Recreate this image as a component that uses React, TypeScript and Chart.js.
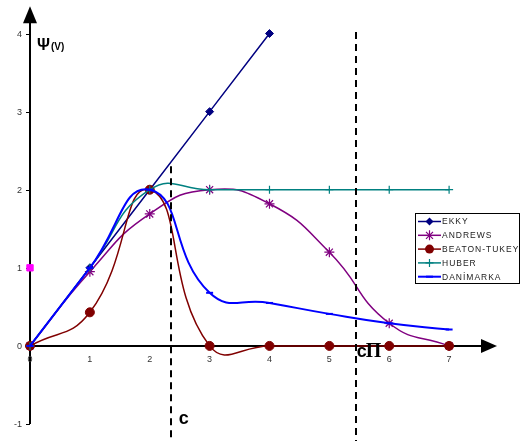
import React, { useEffect, useRef } from "react";
import { Chart, registerables } from "chart.js";

Chart.register(...registerables);

const xCategories = [0, 1, 2, 3, 4, 5, 6, 7];
const ekkyValues = [0, 1, 2, 3, 4];
const andrewsValues = [0, 0.95, 1.69, 2, 1.82, 1.2, 0.29, 0];
const beatonValues = [0, 0.43, 2, 0, 0, 0, 0, 0];
const huberValues = [0, 1, 2, 2, 2, 2, 2, 2];
const danimarkaValues = [0, 1, 2, 0.68, 0.55, 0.41, 0.29, 0.21];
const pinkMarkerX = [0];
const pinkMarkerY = [1];

const xTickLabels = ["0", "1", "2", "3", "4", "5", "6", "7"];
const yTickLabels = ["-1", "0", "1", "2", "3", "4"];
const yTickValues = [-1, 0, 1, 2, 3, 4];

const cLineX = [2.35, 5.44];
const cLineTop = [2.3, 4.02];
const cLabels = ["c", "c"];

const seriesNames = ["EKKY", "ANDREWS", "BEATON-TUKEY", "HUBER", "DANİMARKA"];
const seriesColors = ["#000080", "#800080", "#800000", "#008080", "#0000FF"];

const toPoints = (ys: number[]) => ys.map((y, i) => ({ x: xCategories[i], y }));

const SANS = "'Liberation Sans', Arial, sans-serif";
const SERIF = "'Liberation Serif', 'Times New Roman', serif";

function drawMarker(ctx: CanvasRenderingContext2D, ds: any, x: number, y: number) {
  const r = ds.pointRadius;
  ctx.save();
  ctx.fillStyle = ds.pointBackgroundColor;
  ctx.strokeStyle = ds.pointBorderColor;
  ctx.lineWidth = ds.pointBorderWidth;
  ctx.beginPath();
  switch (ds.pointStyle) {
    case "rectRot":
      ctx.moveTo(x, y - r);
      ctx.lineTo(x + r, y);
      ctx.lineTo(x, y + r);
      ctx.lineTo(x - r, y);
      ctx.closePath();
      ctx.fill();
      break;
    case "circle":
      ctx.arc(x, y, r, 0, Math.PI * 2);
      ctx.fill();
      break;
    case "star": {
      const d = r * 0.7;
      ctx.moveTo(x - d, y - d); ctx.lineTo(x + d, y + d);
      ctx.moveTo(x + d, y - d); ctx.lineTo(x - d, y + d);
      ctx.moveTo(x, y - r); ctx.lineTo(x, y + r);
      ctx.stroke();
      break;
    }
    case "cross":
      ctx.moveTo(x, y - r); ctx.lineTo(x, y + r);
      ctx.moveTo(x - r, y); ctx.lineTo(x + r, y);
      ctx.stroke();
      break;
    case "line":
      ctx.moveTo(x - r, y); ctx.lineTo(x + r, y);
      ctx.stroke();
      break;
  }
  ctx.restore();
}

const overlay = {
  id: "overlay",
  beforeDatasetsDraw(chart: any) {
    const ctx = chart.ctx as CanvasRenderingContext2D;
    const xs = chart.scales.x;
    const ys = chart.scales.y;
    const area = chart.chartArea;
    const x0 = xs.getPixelForValue(0);
    const y0 = ys.getPixelForValue(0);
    ctx.save();
    ctx.strokeStyle = "#000";
    ctx.fillStyle = "#000";
    ctx.lineWidth = 2;
    // y axis
    ctx.beginPath();
    ctx.moveTo(x0, ys.getPixelForValue(-1));
    ctx.lineTo(x0, area.top + 14);
    ctx.stroke();
    ctx.beginPath();
    ctx.moveTo(x0, area.top);
    ctx.lineTo(x0 - 7, area.top + 17);
    ctx.lineTo(x0 + 7, area.top + 17);
    ctx.closePath();
    ctx.fill();
    // x axis
    ctx.beginPath();
    ctx.moveTo(x0, y0);
    ctx.lineTo(area.right - 14, y0);
    ctx.stroke();
    ctx.beginPath();
    ctx.moveTo(area.right, y0);
    ctx.lineTo(area.right - 16, y0 - 7);
    ctx.lineTo(area.right - 16, y0 + 7);
    ctx.closePath();
    ctx.fill();
    // y ticks
    ctx.lineWidth = 1;
    ctx.font = `9px ${SANS}`;
    ctx.fillStyle = "#333";
    ctx.textAlign = "right";
    ctx.textBaseline = "middle";
    yTickValues.forEach((v, i) => {
      const py = Math.round(ys.getPixelForValue(v)) + 0.5;
      ctx.beginPath();
      ctx.moveTo(x0 - 4, py);
      ctx.lineTo(x0, py);
      ctx.stroke();
      ctx.fillText(yTickLabels[i], x0 - 8, py);
    });
    // x tick labels
    ctx.textAlign = "center";
    ctx.textBaseline = "top";
    xCategories.forEach((v, i) => {
      const px = xs.getPixelForValue(v);
      ctx.fillText(xTickLabels[i], px, y0 + 9);
    });
    ctx.restore();
  },
  afterDraw(chart: any) {
    const ctx = chart.ctx as CanvasRenderingContext2D;
    const xs = chart.scales.x;
    const ys = chart.scales.y;
    const H = chart.height;
    ctx.save();
    // dashed lines
    ctx.strokeStyle = "#000";
    ctx.lineWidth = 2;
    ctx.setLineDash([7, 5]);
    cLineX.forEach((v, i) => {
      const px = Math.round(xs.getPixelForValue(v));
      ctx.beginPath();
      ctx.moveTo(px, ys.getPixelForValue(cLineTop[i]));
      ctx.lineTo(px, H);
      ctx.stroke();
    });
    ctx.setLineDash([]);
    // c labels
    ctx.fillStyle = "#000";
    ctx.textAlign = "left";
    ctx.textBaseline = "alphabetic";
    ctx.font = `bold 18px ${SANS}`;
    const c1 = xs.getPixelForValue(cLineX[0]);
    ctx.fillText(cLabels[0], c1 + 8, 424);
    const c2 = xs.getPixelForValue(cLineX[1]);
    ctx.fillText(cLabels[1], c2 + 1, 357);
    const cw = ctx.measureText(cLabels[1]).width;
    ctx.font = `bold 20px ${SERIF}`;
    ctx.fillText("Π", c2 + cw, 357);
    // psi label
    ctx.font = `bold 16px ${SANS}`;
    ctx.fillText("Ψ", 37, 50);
    const pw = ctx.measureText("Ψ").width;
    ctx.font = `bold 10px ${SANS}`;
    ctx.fillText("(V)", 37 + pw + 1, 50);
    // legend
    const lx = 415, ly = 213, lw = 104, lh = 70;
    ctx.fillStyle = "#fff";
    ctx.fillRect(lx, ly, lw, lh);
    ctx.strokeStyle = "#000";
    ctx.lineWidth = 1;
    ctx.strokeRect(lx + 0.5, ly + 0.5, lw, lh);
    ctx.font = `8.5px ${SANS}`;
    (ctx as any).letterSpacing = "1px";
    ctx.textBaseline = "middle";
    seriesNames.forEach((name, i) => {
      const ds = chart.data.datasets[i];
      const ry = ly + 8.5 + i * 13.8;
      ctx.strokeStyle = ds.borderColor;
      ctx.lineWidth = ds.borderWidth;
      ctx.beginPath();
      ctx.moveTo(lx + 3, ry);
      ctx.lineTo(lx + 26, ry);
      ctx.stroke();
      drawMarker(ctx, ds, lx + 14.5, ry);
      ctx.fillStyle = "#222";
      ctx.fillText(name, lx + 27, ry + 0.5);
    });
    ctx.restore();
  },
};

export default function App() {
  const ref = useRef<HTMLCanvasElement | null>(null);
  useEffect(() => {
    if (!ref.current) return;
    const mk = (i: number, values: number[], extra: any) => ({
      label: seriesNames[i],
      data: toPoints(values),
      borderColor: seriesColors[i],
      backgroundColor: seriesColors[i],
      pointBackgroundColor: seriesColors[i],
      pointBorderColor: seriesColors[i],
      tension: 0.5,
      fill: false,
      ...extra,
    });
    const chart = new Chart(ref.current, {
      type: "line",
      data: {
        datasets: [
          mk(0, ekkyValues, { borderWidth: 1.5, pointStyle: "rectRot", pointRadius: 4, pointBorderWidth: 1, tension: 0, order: 4 }),
          mk(1, andrewsValues, { borderWidth: 1.5, pointStyle: "star", pointRadius: 5, pointBorderWidth: 1.2, order: 3 }),
          mk(2, beatonValues, { borderWidth: 1.5, pointStyle: "circle", pointRadius: 4.5, pointBorderWidth: 1, order: 2 }),
          mk(3, huberValues, { borderWidth: 1.5, pointStyle: "cross", pointRadius: 4, pointBorderWidth: 1.2, order: 1 }),
          mk(4, danimarkaValues, { borderWidth: 2, pointStyle: "line", pointRadius: 3.5, pointBorderWidth: 2, order: 0 }),
          {
            label: "marker",
            data: pinkMarkerX.map((x, i) => ({ x, y: pinkMarkerY[i] })),
            showLine: false,
            pointStyle: "rect",
            pointRadius: 4.5,
            pointBackgroundColor: "#FF00FF",
            pointBorderColor: "#FF00FF",
            borderColor: "#FF00FF",
            order: -1,
          },
        ],
      },
      options: {
        animation: false,
        responsive: false,
        devicePixelRatio: 1,
        layout: { padding: { left: 30, right: 23, top: 4, bottom: 17 } },
        plugins: { legend: { display: false }, tooltip: { enabled: false } },
        elements: { line: { capBezierPoints: false } },
        clip: false as any,
        scales: {
          x: { type: "linear", display: false, min: 0, max: 7.8 },
          y: { type: "linear", display: false, min: -1, max: 4.35 },
        },
      },
      plugins: [overlay],
    });
    return () => chart.destroy();
  }, []);
  return (
    <div style={{ position: "fixed", left: 0, top: 0, width: 520, height: 441, background: "#fff" }}>
      <canvas ref={ref} width={520} height={441} style={{ width: 520, height: 441, display: "block" }} />
    </div>
  );
}
